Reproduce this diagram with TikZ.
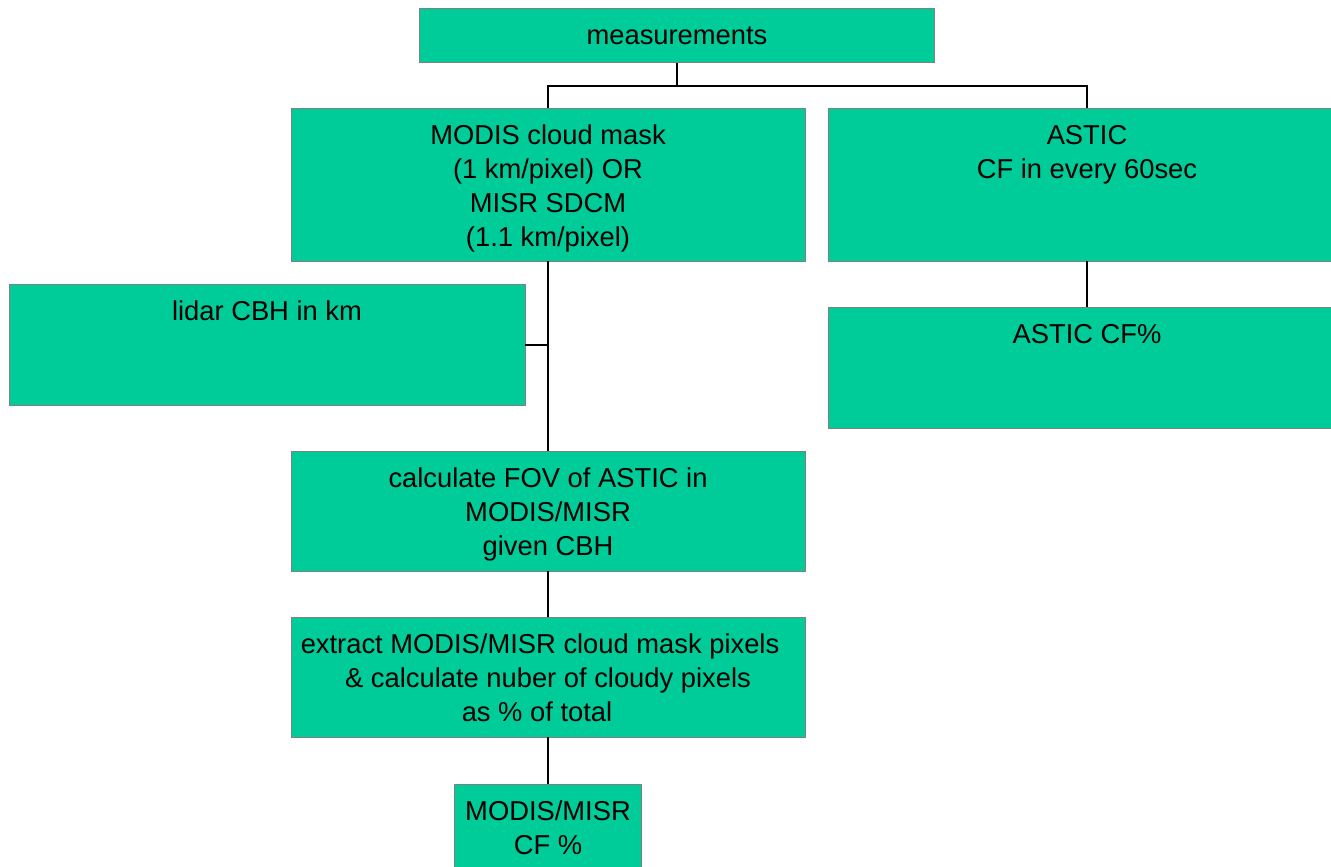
\documentclass[tikz,border=0pt]{standalone}
\usepackage{fontspec}
\setmainfont{Liberation Sans}
\definecolor{boxfill}{HTML}{00CC99}
\definecolor{boxline}{HTML}{808080}
\newcommand{\bxt}[3]{\begin{minipage}[t][#2][t]{#1}\fontsize{20.5pt}{25.7pt}\selectfont\centering\rule{0pt}{27pt}#3\end{minipage}}
\tikzset{
  flowbox/.style={draw=boxline, line width=0.75pt, fill=boxfill, inner sep=0pt, outer sep=0pt},
  conn/.style={draw=black, line width=1.5pt}
}
\begin{document}
\begin{tikzpicture}[x=0.75pt,y=-0.75pt]
\clip (0,0) rectangle (1331,867);
\node[flowbox] (meas) at (677,36) {\bxt{386.25pt}{40.5pt}{measurements}};
\node[flowbox] (modis) at (548,184.5) {\bxt{385.5pt}{114.75pt}{MODIS cloud mask\\(1 km/pixel) OR\\MISR SDCM\\(1.1 km/pixel)}};
\node[flowbox] (astic) at (1087,184.5) {\bxt{388.5pt}{114.75pt}{ASTIC\\CF in every 60sec}};
\node[flowbox] (lidar) at (267,345) {\bxt{387pt}{90.75pt}{lidar CBH in km}};
\node[flowbox] (astcf) at (1087,367.5) {\bxt{388.5pt}{90.75pt}{ASTIC CF\%}};
\node[flowbox] (fov) at (548,511) {\bxt{385.5pt}{90pt}{calculate FOV of ASTIC in\\MODIS/MISR\\given CBH}};
\node[flowbox] (extract) at (548,677) {\bxt{385.5pt}{90pt}{extract MODIS/MISR cloud mask pixels\kern12pt\\\& calculate nuber of cloudy pixels\\as \% of total\kern16.5pt}};
\node[flowbox] (cf) at (548,844) {\bxt{140.25pt}{90pt}{MODIS/MISR\\CF \%}};
\coordinate (bar) at (677,86);
\draw[conn] (meas.south) -- (bar);
\draw[conn] (modis.north) -- (modis.north |- bar) -- (astic.north |- bar) -- (astic.north);
\draw[conn] (modis.south) -- (fov.north);
\draw[conn] (lidar.east) -- (lidar.east -| modis.south);
\draw[conn] (fov.south) -- (extract.north);
\draw[conn] (extract.south) -- (cf.north);
\draw[conn] (astic.south) -- (astcf.north);
\end{tikzpicture}
\end{document}
